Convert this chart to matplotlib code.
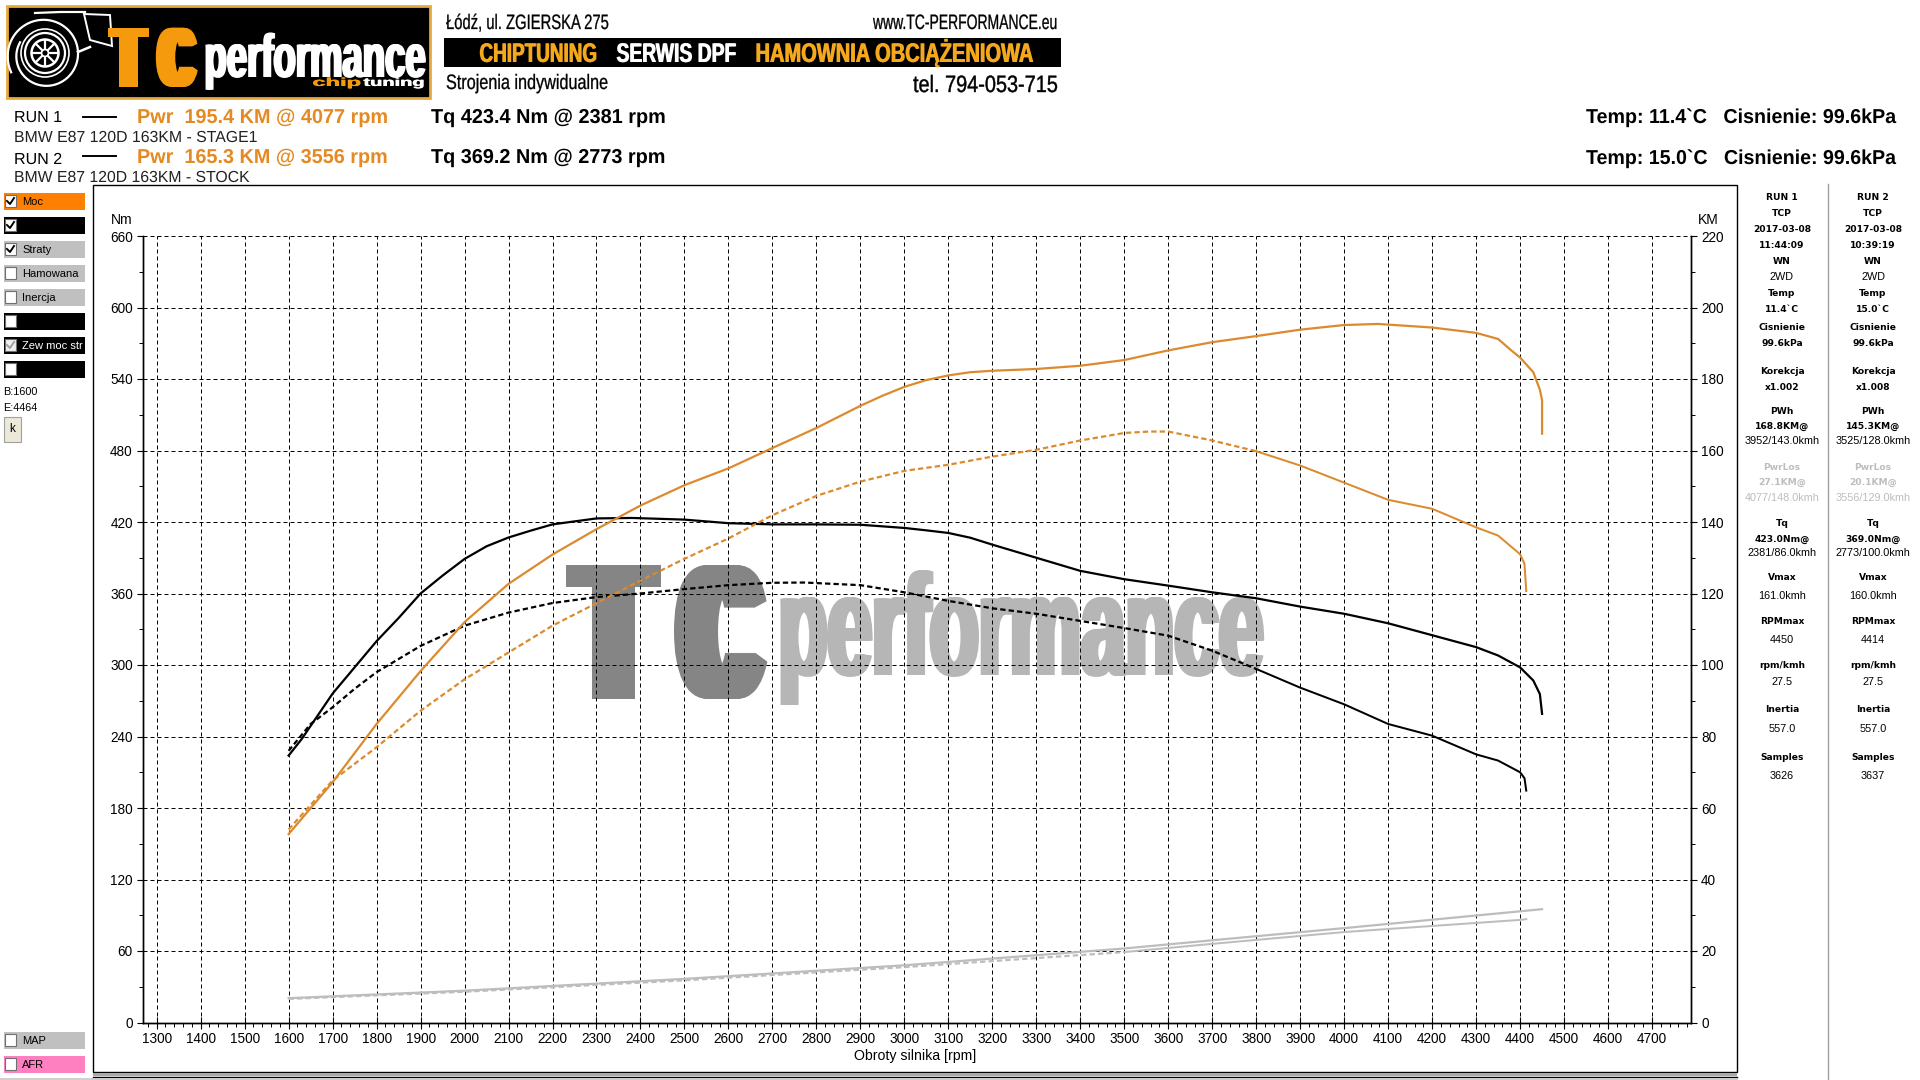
import numpy as np
import matplotlib
matplotlib.use("Agg")
import matplotlib.pyplot as plt
from matplotlib.lines import Line2D
from matplotlib.patches import Rectangle, Circle, Polygon
from matplotlib.patheffects import AbstractPathEffect
from matplotlib.ticker import FixedLocator, MultipleLocator
from matplotlib.transforms import Affine2D

plt.rcParams['font.family'] = ['Liberation Sans', 'DejaVu Sans']

# curves, power in KM, torque in Nm
rpm_pwr1 = [1600, 1700, 1800, 1900, 2000, 2100, 2200, 2300, 2400, 2500, 2600, 2700, 2800, 2900, 2950, 3000,
            3050, 3100, 3150, 3200, 3300, 3400, 3500, 3600, 3700, 3800, 3900, 4000, 4077, 4200, 4300, 4350, 4380,
            4400, 4430, 4445, 4450, 4450]
pwr1 = [52.7, 67.2, 83.5, 98.3, 112, 122.7, 130.9, 138, 144.6, 150.3, 155, 160.7, 166.3, 172.5, 175.3, 177.8,
        179.7, 181, 181.9, 182.3, 182.8, 183.7, 185.3, 188, 190.3, 192, 193.8, 195.1, 195.4, 194.4, 192.9, 191.2, 188,
        186, 181.9, 177, 174, 164.7]

rpm_pwr2 = [1600, 1700, 1800, 1900, 2000, 2100, 2200, 2300, 2400, 2500, 2600, 2700, 2800, 2900, 3000,
            3100, 3200, 3300, 3400, 3500, 3556, 3600, 3700, 3800, 3900, 4000, 4100, 4200, 4300, 4350,
            4400, 4410, 4414]
pwr2 = [54, 67.7, 77, 87.2, 96, 103.5, 111, 117.3, 123.6, 129.7, 135.4, 141.9, 147.3, 151.3, 154.3,
        156, 158.3, 160.2, 162.8, 164.9, 165.3, 165.3, 162.8, 159.8, 155.8, 151, 146.2, 143.7, 138.5, 136.2,
        131, 128.3, 120.7]

rpm_tq1 = [1600, 1630, 1700, 1800, 1850, 1900, 1950, 2000, 2050, 2100, 2150, 2200, 2300, 2381, 2500, 2600, 2700,
           2800, 2900, 3000, 3050, 3100, 3150, 3200, 3300, 3400, 3500, 3600, 3700, 3800, 3900, 4000, 4100, 4200,
           4300, 4350, 4400, 4430, 4445, 4450]
tq1 = [224, 238, 276, 320, 339.4, 360, 375, 389, 399.6, 407, 412.7, 418, 423, 423.4, 422, 419, 418,
       418, 417.7, 415, 413, 410.8, 406.8, 401, 390, 379, 372, 366.6, 361, 356, 349, 343, 335, 325,
       315, 308, 298, 287, 275.6, 259]

rpm_tq2 = [1600, 1650, 1700, 1750, 1800, 1850, 1900, 1950, 2000, 2100, 2200, 2300, 2400, 2500, 2600, 2700, 2773,
           2900, 3000, 3100, 3200, 3300, 3400, 3500, 3600, 3700, 3800, 3900, 4000, 4100, 4200, 4300, 4350, 4400,
           4410, 4414]
tq2 = [228, 250.5, 264.5, 280, 294, 305, 316, 324.5, 333, 344, 352, 357, 360, 363.7, 367, 369, 369.2,
       367, 361, 353.8, 347.6, 343, 337, 331, 324.6, 312, 296.7, 281, 267, 250.5, 240.7, 225, 219.8, 210,
       205, 194.6]

rpm_loss1 = [1600, 2000, 2500, 3000, 3500, 3700, 4000, 4400, 4450]
loss1 = [6.8, 8.9, 12.2, 16, 20.7, 23, 26.4, 31.1, 31.7]
rpm_loss2 = [1600, 2000, 2500, 3000, 3500, 3700, 4000, 4400, 4414]
loss2 = [6.6, 8.6, 11.8, 15.5, 19.7, 22, 25.3, 28.7, 28.9]

rpm_ticks = list(range(1300, 4800, 100))
nm_ticks = list(range(0, 720, 60))
km_ticks = list(range(0, 240, 20))

info_rows = [198, 214, 230, 245, 261, 277, 293, 309, 328, 344, 371, 387, 411, 426, 441, 467, 482, 498,
             523, 539, 553, 578, 596, 622, 640, 665, 682, 709, 729, 757, 776]
info_kind = ['b', 'b', 'b', 'b', 'b', 'n', 'b', 'b', 'b', 'b', 'b', 'b', 'b', 'b', 'n', 'gb', 'gb', 'g',
             'b', 'b', 'n', 'b', 'n', 'b', 'n', 'b', 'n', 'b', 'n', 'b', 'n']
info_run1 = ['RUN 1', 'TCP', '2017-03-08', '11:44:09', 'WN', '2WD', 'Temp', '11.4`C', 'Cisnienie', '99.6kPa',
             'Korekcja', 'x1.002', 'PWh', '168.8KM@', '3952/143.0kmh', 'PwrLos', '27.1KM@', '4077/148.0kmh',
             'Tq', '423.0Nm@', '2381/86.0kmh', 'Vmax', '161.0kmh', 'RPMmax', '4450', 'rpm/kmh', '27.5',
             'Inertia', '557.0', 'Samples', '3626']
info_run2 = ['RUN 2', 'TCP', '2017-03-08', '10:39:19', 'WN', '2WD', 'Temp', '15.0`C', 'Cisnienie', '99.6kPa',
             'Korekcja', 'x1.008', 'PWh', '145.3KM@', '3525/128.0kmh', 'PwrLos', '20.1KM@', '3556/129.0kmh',
             'Tq', '369.0Nm@', '2773/100.0kmh', 'Vmax', '160.0kmh', 'RPMmax', '4414', 'rpm/kmh', '27.5',
             'Inertia', '557.0', 'Samples', '3637']

ORANGE = '#DC8A2E'
LOGO_ORANGE = '#F59A0C'
GREY = '#BDBDBD'

fig = plt.figure(figsize=(19.2, 10.8), dpi=100)
fig.patch.set_facecolor('white')
pix = Affine2D().scale(1, -1).translate(0, 1080)  # top-left pixel coords of the reference
renderer = fig.canvas.get_renderer()


class Squeeze(AbstractPathEffect):
    # text stays a Text, only the drawn outline gets taller / heavier
    def __init__(self, sy, stroke=0.0, hbold=0):
        super().__init__()
        self.sy = sy
        self.stroke = stroke
        self.hbold = hbold

    def draw_path(self, renderer, gc, tpath, affine, rgbFace=None):
        gc0 = renderer.new_gc()
        gc0.copy_properties(gc)
        gc0.set_linewidth(self.stroke)
        if self.stroke > 0:
            gc0.set_foreground(rgbFace)
        for dx in range(self.hbold + 1):
            tr = Affine2D().scale(1, self.sy) + affine + Affine2D().translate(dx, 0)
            renderer.draw_path(gc0, tpath, tr, rgbFace)
        gc0.restore()


def fit_text(x0, x1, base, s, size, color='black', weight='normal', stroke=0.0, hbold=0, on=None, z=5):
    # size is the height wanted, the font is scaled so the string fills x0..x1
    t = (on or fig).text(x0, base, s, transform=pix, fontsize=size, color=color, fontweight=weight,
                         ha='left', va='baseline', zorder=z)
    r = (x1 - x0 - hbold) / t.get_window_extent(renderer).width
    t.set_fontsize(size * r)
    t.set_path_effects([Squeeze(1 / r, stroke, hbold)])
    return t


def box(x0, y0, x1, y1, face, edge='none', lw=0.0, z=1):
    fig.add_artist(Rectangle((x0, y0), x1 - x0, y1 - y0, transform=pix, facecolor=face, edgecolor=edge,
                             linewidth=lw, zorder=z))


def pline(xs, ys, color='black', lw=0.72, z=2):
    fig.add_artist(Line2D(xs, ys, transform=pix, color=color, linewidth=lw, zorder=z))


def plot_stock(a, rpm, vals, color, lw, split):
    # the stock run is dashed up to split rpm, past that the samples run together
    rpm, vals = np.array(rpm), np.array(vals)
    left = rpm <= split
    a.plot(rpm[left], vals[left], color=color, lw=lw, linestyle=(0, (2.4, 1.4)), zorder=4)
    a.plot(rpm[~left | (rpm == split)], vals[~left | (rpm == split)], color=color, lw=lw * 0.9, zorder=4)


# main plot
ax = fig.add_axes([143 / 1920, 1 - 1022.5 / 1080, (1691 - 143) / 1920, (1022.5 - 236) / 1080])
ax.set_xlim(1268.9, 4788.6)
ax.set_ylim(0, 660)
ax2 = ax.twinx()
ax2.set_ylim(0, 220)
for a in (ax, ax2):
    a.spines['top'].set_visible(False)
    a.spines['left'].set_linewidth(1.0)
    a.spines['right'].set_linewidth(1.0)
    a.spines['bottom'].set_linewidth(1.0)

ax.set_xticks(rpm_ticks)
ax.xaxis.set_minor_locator(MultipleLocator(20))
ax.yaxis.set_major_locator(FixedLocator(nm_ticks))
ax.yaxis.set_minor_locator(MultipleLocator(30))
ax2.yaxis.set_major_locator(FixedLocator(km_ticks))
ax2.yaxis.set_minor_locator(MultipleLocator(10))
ax.tick_params(axis='x', which='major', direction='inout', length=8, width=0.8, labelsize=9.8, pad=3)
ax.tick_params(axis='x', which='minor', direction='out', length=2.9, width=0.7)
ax.tick_params(axis='y', which='major', length=4.3, width=0.8, labelsize=9.8, pad=3)
ax.tick_params(axis='y', which='minor', length=2.9, width=0.7)
ax2.tick_params(axis='y', which='major', length=4.3, width=0.8, labelsize=9.8, pad=3)
ax2.tick_params(axis='y', which='minor', length=2.9, width=0.7)
ax.set_axisbelow('line')
ax.grid(True, which='major', color='black', linewidth=0.72, linestyle=(0, (4, 3)))

ax2.plot(rpm_pwr1, pwr1, color=ORANGE, lw=1.6, solid_joinstyle='round', zorder=4)
plot_stock(ax2, rpm_pwr2, pwr2, ORANGE, 1.6, 3800)
ax.plot(rpm_tq1, tq1, color='black', lw=1.6, solid_joinstyle='round', zorder=4)
plot_stock(ax, rpm_tq2, tq2, 'black', 1.6, 3800)
ax2.plot(rpm_loss1, loss1, color=GREY, lw=1.6, zorder=3)
plot_stock(ax2, rpm_loss2, loss2, GREY, 1.6, 3500)

# watermark sits under the grid
fit_text(565, 662, 699, 'T', 140, color='#858585', weight='bold', hbold=26, on=ax, z=0.5)
fit_text(670, 770, 697, 'C', 136, color='#858585', weight='bold', hbold=30, on=ax, z=0.5)
fit_text(775, 1267, 675, 'performance', 104, color='#B6B6B6', weight='bold', hbold=7, on=ax, z=0.5)

fig.text(111, 224, 'Nm', transform=pix, fontsize=10, va='baseline')
fig.text(1698, 224, 'KM', transform=pix, fontsize=10, va='baseline')
fig.text(915, 1060, 'Obroty silnika [rpm]', transform=pix, fontsize=10.2, ha='center', va='baseline')

# frame round the plot
box(93, 185, 1737, 1072, 'none', 'black', 1.0, z=-1)
box(93, 1073, 1737, 1076, '#A8A8A8')
pline([93, 1737], [1077, 1077], lw=1.0)
pline([93, 1737], [1079.5, 1079.5], lw=1.0)
pline([1828, 1828], [184, 1080], color='#A0A0A0', lw=1.0)
box(0, 1078, 93, 1080, '#D0D0D0')

# run header
fit_text(14, 62, 122, 'RUN 1', 11.5)
fit_text(14, 62, 164, 'RUN 2', 11.5)
pline([83, 116], [117, 117], lw=1.4)
pline([83, 116], [156, 156], lw=1.4)
fit_text(137, 388, 123, 'Pwr  195.4 KM @ 4077 rpm', 14.5, color='#E58A22', weight='bold')
fit_text(137, 388, 163, 'Pwr  165.3 KM @ 3556 rpm', 14.5, color='#E58A22', weight='bold')
fit_text(431, 666, 123, 'Tq 423.4 Nm @ 2381 rpm', 14.5, weight='bold')
fit_text(431, 666, 163, 'Tq 369.2 Nm @ 2773 rpm', 14.5, weight='bold')
fit_text(14, 258, 142, 'BMW E87 120D 163KM - STAGE1', 11.5, color='#222222')
fit_text(14, 250, 182, 'BMW E87 120D 163KM - STOCK', 11.5, color='#222222')
fit_text(1586, 1896, 123, 'Temp: 11.4`C   Cisnienie: 99.6kPa', 14.5, weight='bold')
fit_text(1586, 1896, 164, 'Temp: 15.0`C   Cisnienie: 99.6kPa', 14.5, weight='bold')

# run info columns
for col_x, col in ((1782, info_run1), (1873, info_run2)):
    for y, s, kind in zip(info_rows, col, info_kind):
        bold = 'b' in kind
        color = '#BDBDBD' if 'g' in kind else 'black'
        fig.text(col_x, y, s, transform=pix, ha='center', va='center', color=color,
                 fontsize=6.6 if bold else 7.8, family='DejaVu Sans' if bold else 'Liberation Sans',
                 fontweight='bold' if bold else 'normal')

# left check boxes
checks = [(193, '#FF8000', 'Moc', 'black', 1), (217, 'black', '', 'white', 1), (241, '#C0C0C0', 'Straty', 'black', 1),
          (265, '#C0C0C0', 'Hamowana', 'black', 0), (289, '#C0C0C0', 'Inercja', 'black', 0),
          (313, 'black', '', 'white', 0), (337, 'black', 'Zew moc str', 'white', 2), (361, 'black', '', 'white', 0),
          (1032, '#C0C0C0', 'MAP', 'black', 0), (1056, '#FF80C0', 'AFR', 'black', 0)]
for y, face, label, tc, state in checks:
    box(4, y, 85, y + 17, face)
    box(5, y + 2, 16, y + 14, '#F0F0F0' if state == 2 else 'white', '#707070', 0.8, z=2)
    if state:
        c = '#A0A0A0' if state == 2 else 'black'
        pline([7, 10, 14], [y + 8, y + 11, y + 5], color=c, lw=1.4, z=3)
    if label:
        fig.text(22, y + 9, label, transform=pix, fontsize=8, color=tc, va='center')
fig.text(3, 392, 'B:1600', transform=pix, fontsize=7.8, va='center')
fig.text(3, 408, 'E:4464', transform=pix, fontsize=7.8, va='center')
box(4, 417, 21, 442, '#ECE9D8', '#A0A0A0', 0.8)
fig.text(12.5, 429, 'k', transform=pix, fontsize=8.5, ha='center', va='center')

# logo
box(7, 6, 430, 98, 'black', '#E9A93B', 2.0)
cx, cy = 45, 53
ang = np.linspace(0.85 * np.pi, 3.15 * np.pi, 80)
rad = np.linspace(28, 38, 80)[::-1]
pline(cx + rad * np.cos(ang), cy + rad * np.sin(ang) + 2, color='white', lw=1.6)
pline([35, 60, 85], [13, 12, 12], color='white', lw=1.6)
fig.add_artist(Polygon([(84, 14), (110, 15), (112, 46), (90, 40)], closed=True, transform=pix, facecolor='black',
                       edgecolor='white', linewidth=1.4, zorder=2))
pline([78, 90], [52, 47], color='white', lw=1.8)
for r, lw in ((24, 1.2), (20, 1.6), (13.5, 1.8), (3.5, 1.2)):
    fig.add_artist(Circle((cx, cy), r, transform=pix, facecolor='none', edgecolor='white', linewidth=lw, zorder=2))
for a in np.arange(0, 2 * np.pi, np.pi / 4):
    pline([cx + 4 * np.cos(a), cx + 13 * np.cos(a)], [cy + 4 * np.sin(a), cy + 13 * np.sin(a)], color='white', lw=1.6)
fit_text(107, 150, 87, 'T', 62, color=LOGO_ORANGE, weight='bold', hbold=12)
fit_text(154, 199, 86, 'C', 60, color=LOGO_ORANGE, weight='bold', hbold=13)
fit_text(203, 427, 77, 'performance', 44, color='white', weight='bold', hbold=3)
fit_text(312, 362, 86, 'chip', 8.5, color=LOGO_ORANGE, weight='bold', hbold=1, z=6)
fit_text(363, 425, 86, 'tuning', 8.5, color='white', weight='bold', hbold=1, z=6)

# address banner
fit_text(446, 609, 29, 'Łódź, ul. ZGIERSKA 275', 15, stroke=0.2)
fit_text(873, 1058, 29, 'www.TC-PERFORMANCE.eu', 15, stroke=0.2)
box(444, 38, 1061, 67, 'black')
fit_text(479, 598, 62, 'CHIPTUNING', 19.5, color='#F5A81C', weight='bold', hbold=1)
fit_text(616, 737, 62, 'SERWIS DPF', 19.5, color='white', weight='bold', hbold=1)
fit_text(755, 1035, 62, 'HAMOWNIA OBCIĄŻENIOWA', 19.5, color='#F5A81C', weight='bold', hbold=1)
fit_text(446, 609, 89, 'Strojenia indywidualne', 15, stroke=0.2)
fit_text(913, 1058, 92, 'tel. 794-053-715', 17, stroke=0.3)

fig.savefig('out.png', dpi=100)
